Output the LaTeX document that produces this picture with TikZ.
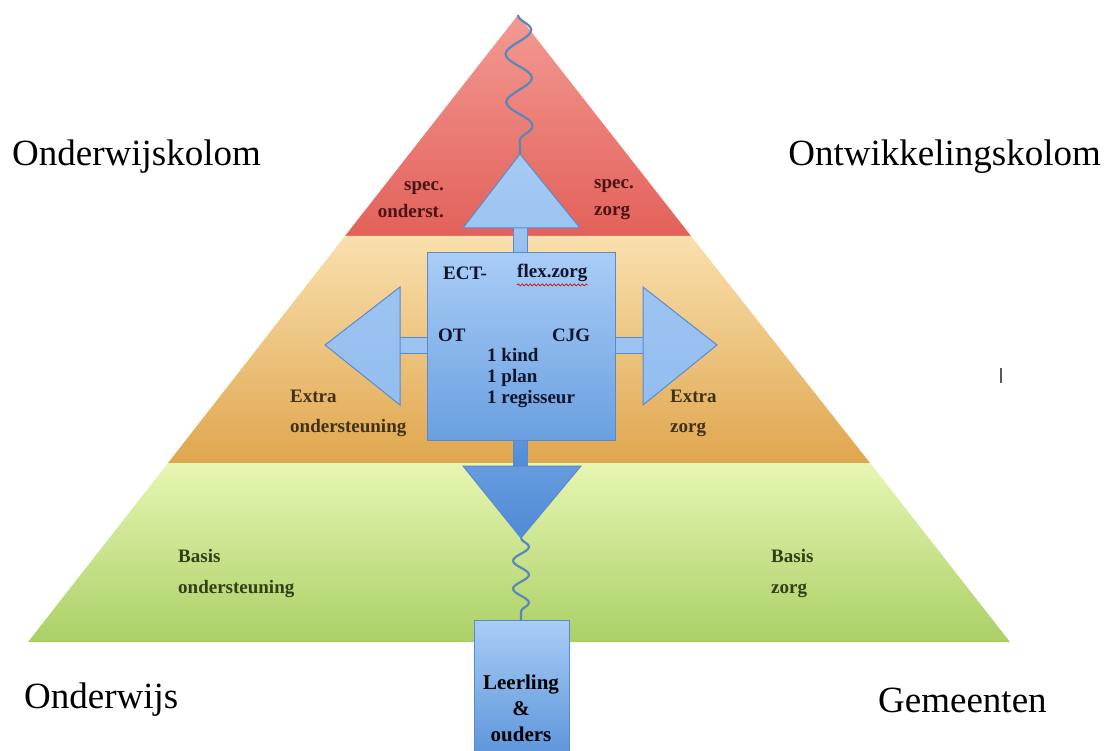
\documentclass[tikz,border=0pt]{standalone}
\usepackage{fontspec}
\setmainfont{Liberation Serif}
\usetikzlibrary{decorations.pathmorphing}
\definecolor{redT}{HTML}{F29A92}
\definecolor{redB}{HTML}{E2615A}
\definecolor{orT}{HTML}{F9E0AE}
\definecolor{orB}{HTML}{DFA64E}
\definecolor{grT}{HTML}{E6F6B2}
\definecolor{grB}{HTML}{ABD067}
\definecolor{bluT}{HTML}{A9CDF6}
\definecolor{bluB}{HTML}{5F97DC}
\definecolor{bluL}{HTML}{9CC4F2}
\definecolor{bluD}{HTML}{4F8AD6}
\definecolor{bluE}{HTML}{5B8ACB}
\definecolor{wavec}{HTML}{5B86B8}
\definecolor{txtred}{HTML}{4A1412}
\definecolor{txtor}{HTML}{403014}
\definecolor{txtgr}{HTML}{323F16}
\definecolor{txtbl}{HTML}{10142E}
\tikzset{
  bigl/.style={font=\fontsize{37}{40}\selectfont, text=black, inner sep=0pt},
  redl/.style={font=\bfseries\fontsize{19}{27}\selectfont, text=txtred, inner sep=0pt},
  orl/.style={font=\bfseries\fontsize{19}{30}\selectfont, text=txtor, inner sep=0pt},
  grl/.style={font=\bfseries\fontsize{19}{31}\selectfont, text=txtgr, inner sep=0pt},
  boxl/.style={font=\bfseries\fontsize{19}{21}\selectfont, text=txtbl, inner sep=0pt},
  wavy/.style={draw=wavec, line width=2.2pt, decorate},
}
\begin{document}
\begin{tikzpicture}[x=1pt,y=-1pt]
\useasboundingbox (0,0) rectangle (1107,751);
\fill[white] (0,0) rectangle (1107,751);

% pyramid bands
\shade[top color=redT,bottom color=redB] (518,15) -- (691,236) -- (345,236) -- cycle;
\shade[top color=orT,bottom color=orB] (345,236) -- (691,236) -- (870,463) -- (168,463) -- cycle;
\shade[top color=grT,bottom color=grB] (168,463) -- (870,463) -- (1010,642) -- (28,642) -- cycle;

% named anchor points
\coordinate (apex) at (518,15);
\coordinate (uptip) at (520,154);
\coordinate (downtip) at (521,538);
\coordinate (leertop) at (521,620);

% wavy connectors
\draw[wavy, decoration={snake,segment length=48,amplitude=13}] (apex) -- (uptip);
\draw[wavy, decoration={snake,segment length=28,amplitude=8}] (downtip) -- (leertop);

% blue cross shape
\shadedraw[draw=bluE, line width=1pt, top color=bluL, bottom color=bluL!90!bluB] (513,226) rectangle (527,254);
\shadedraw[draw=bluE, line width=1pt, top color=bluL!90!white, bottom color=bluL] (uptip) -- (580,228) -- (463,228) -- cycle;
\shadedraw[draw=bluE, line width=1pt, top color=bluL, bottom color=bluL] (398,337) rectangle (429,353);
\shadedraw[draw=bluE, line width=1pt, top color=bluL, bottom color=bluL] (613,337) rectangle (644,353);
\shadedraw[draw=bluE, line width=1pt, top color=bluD!80!bluL, bottom color=bluD] (513,438) rectangle (527,468);
\node[draw=bluE, line width=1pt, top color=bluT, bottom color=bluB!85!bluT, minimum width=188pt, minimum height=188pt, inner sep=0pt] (box) at (521,346) {};
\shadedraw[draw=bluE, line width=1pt, top color=bluL, bottom color=bluL!85!bluB] (325,345) -- (400,287) -- (400,405) -- cycle;
\shadedraw[draw=bluE, line width=1pt, top color=bluL, bottom color=bluL!85!bluB] (717,345) -- (643,287) -- (643,405) -- cycle;
\shadedraw[draw=bluE, line width=1pt, top color=bluD!70!bluL, bottom color=bluD] (463,466) -- (581,466) -- (downtip) -- cycle;

% Leerling box
\shade[top color=bluT, bottom color=bluB] (474,620) rectangle (569,751);
\draw[draw=bluE, line width=1pt] (474,751) -- (474,620) -- (569,620) -- (569,751);
\node[boxl, font=\bfseries\fontsize{21}{26}\selectfont, align=center, text=black] (leer) at (521,708) {Leerling\\\&\\ouders};

% big labels
\node[bigl, anchor=west] (onderwijskolom) at (12,157) {Onderwijskolom};
\node[bigl, anchor=east] (ontwikkelingskolom) at (1101,157) {Ontwikkelingskolom};
\node[bigl, anchor=west] (onderwijs) at (24,700) {Onderwijs};
\node[bigl, anchor=west] (gemeenten) at (878,700) {Gemeenten};

% red band
\node[redl, align=right, anchor=east] (specond) at (444,200) {spec.\\onderst.};
\node[redl, align=left, anchor=west] (speczorg) at (594,200) {spec.\\zorg};

% box texts
\node[boxl, anchor=west] (ect) at (443,273) {ECT-};
\node[boxl, anchor=west] (flex) at (517,273) {flex.zorg};
\draw[red!80!black, line width=0.7pt, decorate, decoration={snake,segment length=4,amplitude=1}] ([yshift=-3pt]flex.south west) -- ([yshift=-3pt]flex.south east);
\node[boxl, anchor=west] (ot) at (438,335) {OT};
\node[boxl, anchor=west] (cjg) at (552,335) {CJG};
\node[boxl, anchor=north west, align=left] (kind) at (487,348) {1 kind\\1 plan\\1 regisseur};

% orange band
\node[orl, align=left, anchor=west] (extraond) at (290,413) {Extra\\ondersteuning};
\node[orl, align=left, anchor=west] (extrazorg) at (670,413) {Extra\\zorg};

% green band
\node[grl, align=left, anchor=west] (basisond) at (178,573) {Basis\\ondersteuning};
\node[grl, align=left, anchor=west] (basiszorg) at (771,573) {Basis\\zorg};

% stray cursor mark
\draw[gray!70!black, line width=1.3pt] (1001,368) -- (1001,383);
\end{tikzpicture}
\end{document}
